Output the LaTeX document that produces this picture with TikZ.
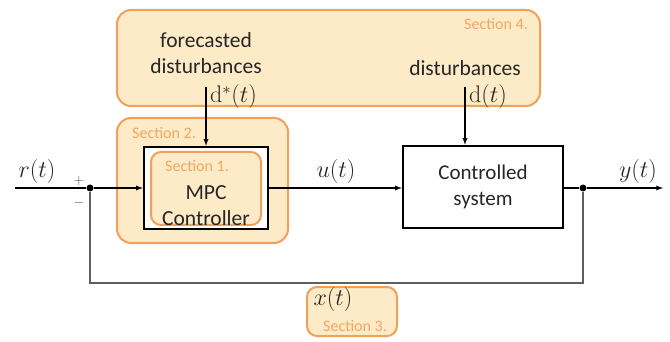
\RequirePackage{fix-cm}
\documentclass[tikz,border=0pt]{standalone}
\usepackage{amsmath}
\usepackage[no-math]{fontspec}
\setmainfont{Carlito}
\usepackage{tikz}
\usetikzlibrary{positioning}
\definecolor{secfill}{RGB}{253,234,198}
\definecolor{secline}{RGB}{240,160,90}
\definecolor{sectext}{RGB}{242,168,100}
\definecolor{fbline}{RGB}{95,95,95}

\begin{document}
\begin{tikzpicture}[x=1pt,y=-1pt,>=latex]

\tikzstyle{section}=[draw=secline, fill=secfill, line width=2pt, rounded corners=14pt, inner sep=0pt]
\tikzstyle{block}=[draw=black, line width=2.5pt, fill=white, inner sep=0pt, font=\fontsize{21}{26}\selectfont, align=center, text=black!85]
\tikzstyle{secname}=[text=sectext, font=\fontsize{16}{18}\selectfont, inner sep=0pt]
\tikzstyle{lbl}=[font=\fontsize{21.5}{26}\selectfont, align=center, text=black!85, inner sep=0pt]
\tikzstyle{mlbl}=[font=\fontsize{24}{26}\selectfont, text=black!85, inner sep=0pt]
\tikzstyle{sig}=[line width=1.3pt]
\tikzstyle{junction}=[circle, fill=black, inner sep=0pt, minimum size=7pt]

\useasboundingbox (0,0) rectangle (670,342);

\node[section, minimum width=423pt, minimum height=96pt] at (328.5,58) (sec4) {};
\node[section, minimum width=171pt, minimum height=125pt] at (202.5,180.5) (sec2) {};
\node[block, minimum width=124pt, minimum height=82pt] at (206,188) (mpc) {};
\node[section, rounded corners=10pt, minimum width=110pt, minimum height=73pt] at (206,188.5) (sec1) {};
\node[block, minimum width=160pt, minimum height=82pt] at (483,187) (sys) {Controlled\\system};
\node[section, rounded corners=10pt, minimum width=90pt, minimum height=49pt] at (352,311.5) (sec3) {};

\node[secname, anchor=east] at (528,24) (sec4name) {Section 4.};
\node[secname, anchor=west] at (132,133) (sec2name) {Section 2.};
\node[secname] at (197,166) (sec1name) {Section 1.};
\node[secname] at (355,326) (sec3name) {Section 3.};

\node[lbl] at (206,53) (fdist) {forecasted\\disturbances};
\node[mlbl, anchor=west] at (210,97) (dstar) {$\mathrm{d}^{*}(t)$};
\node[lbl] at (465,68) (dist) {disturbances};
\node[mlbl, anchor=west] at (469,97) (dnow) {$\mathrm{d}(t)$};
\node[lbl] at (206,206) (mpctext) {MPC\\Controller};

\node[mlbl] at (37,172) (ref) {$r(t)$};
\node[mlbl] at (336,172) (ctrl) {$u(t)$};
\node[mlbl] at (638,172) (out) {$y(t)$};
\node[mlbl] at (333,300) (state) {$x(t)$};
\node[font=\fontsize{14}{16}\selectfont, text=black!70] at (79,181) (plus) {$+$};
\node[font=\fontsize{14}{16}\selectfont, text=black!70] at (79,203) (minus) {$-$};

\coordinate (fsrc) at (206,87);
\coordinate (dsrc) at (465,87);
\coordinate (rin) at (15,188);
\coordinate (yout) at (663,188);
\node[junction] at (90,188) (sum) {};
\node[junction] at (583,188) (ydot) {};

\draw[sig,->] (fsrc) -- (mpc);
\draw[sig,->] (dsrc) -- (dsrc |- sys.north);
\draw[sig] (rin) -- (sum);
\draw[sig,->] (sum) -- (mpc.west |- sum);
\draw[sig,->] (mpc.east |- sum) -- (sys.west |- sum);
\draw[sig] (sys.east |- ydot) -- (ydot);
\draw[sig,->] (ydot) -- (yout);
\draw[sig, fbline] (ydot) -- ++(0,95) -| (sum);

\end{tikzpicture}
\end{document}
